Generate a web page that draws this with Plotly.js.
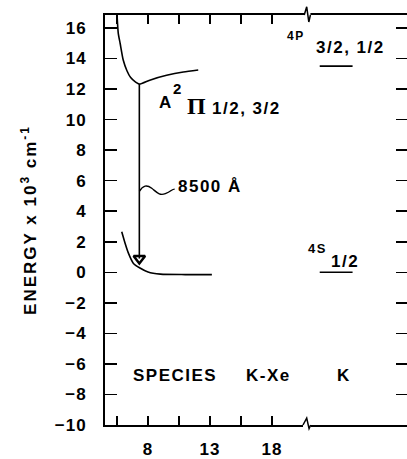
<!DOCTYPE html>
<html>
<head>
<meta charset="utf-8">
<script src="https://cdn.plot.ly/plotly-3.0.1.min.js"></script>
<style>
  html, body { margin: 0; padding: 0; background: #fff; }
  #chart { width: 407px; height: 459px; }
  .annotation-text { letter-spacing: 1.5px; }
  .ytitle { letter-spacing: 2px; }
  .xtick text, .ytick text { letter-spacing: 1px; }
</style>
</head>
<body>
<div id="chart"></div>
<script>
// K-Xe potential curves (energy in 10^3 cm^-1 vs internuclear separation)
const excitedX = [5.5, 5.6, 5.75, 6.0, 6.3, 6.6, 7.0, 7.3, 8.2, 9.5, 10.85, 12.05];
const excitedY = [16.85, 15.65, 15.0, 13.9, 13.2, 12.75, 12.45, 12.32, 12.6, 12.9, 13.12, 13.25];
const groundX = [5.88, 6.15, 6.41, 6.81, 7.35, 8.0, 9.0, 11.0, 13.15];
const groundY = [2.65, 1.9, 1.27, 0.6, 0.28, 0.02, -0.12, -0.15, -0.15];

// 8500 Å emission: vertical transition from the excited minimum
const transitionX = [7.3, 7.3];
const transitionY = [12.32, 0.9];

// Atomic K levels, drawn right of the axis break
const levelX = [21.85, 24.5];
const level4P = 13.5;
const level4S = 0.0;

// Axis ticks
const yTickVals = [-10, -8, -6, -4, -2, 0, 2, 4, 6, 8, 10, 12, 14, 16];
const xTickVals = [8, 13, 18];
const xMinorVals = [5.5, 10.5, 15.5];

const xBreak = 20.5;
const ink = '#000';
const sans = 'Arial, Liberation Sans, sans-serif';
const serif = 'Liberation Serif, Times New Roman, serif';

const traces = [
  { x: excitedX, y: excitedY, mode: 'lines', line: { color: ink, width: 1.6, shape: 'spline', smoothing: 0.6 }, hoverinfo: 'skip' },
  { x: groundX, y: groundY, mode: 'lines', line: { color: ink, width: 1.6, shape: 'spline', smoothing: 0.6 }, hoverinfo: 'skip' },
  { x: transitionX, y: transitionY, mode: 'lines', line: { color: ink, width: 1.6 }, hoverinfo: 'skip' },
  { x: [transitionX[1]], y: [transitionY[1]], mode: 'markers',
    marker: { symbol: 'triangle-down-open', size: 10, color: ink, line: { width: 2.5, color: ink } }, hoverinfo: 'skip' },
  { x: levelX, y: [level4P, level4P], mode: 'lines', line: { color: ink, width: 1.6 }, yaxis: 'y2', hoverinfo: 'skip' },
  { x: levelX, y: [level4S, level4S], mode: 'lines', line: { color: ink, width: 1.6 }, yaxis: 'y2', hoverinfo: 'skip' }
];

function label(text, x, y, size, family) {
  return { text: text, x: x, y: y, xref: 'x', yref: 'y', showarrow: false,
    font: { family: family || sans, size: size, color: ink, weight: 'bold' } };
}

const annotations = [
  label('A', 9.41, 11.15, 17),
  label('2', 10.45, 12.05, 15),
  label('Π', 11.99, 10.92, 24, serif),
  label('1/2, 3/2', 15.94, 10.70, 17),
  label('8500 Å', 13.0, 5.59, 17),
  label('4P', 19.94, 15.48, 12),
  label('3/2, 1/2', 24.37, 14.72, 17),
  label('4S', 21.67, 1.53, 13),
  label('1/2', 23.89, 0.74, 17),
  label('SPECIES', 10.14, -6.79, 17),
  label('K-Xe', 17.68, -6.79, 17),
  label('K', 23.8, -6.79, 17)
];

const shapes = [
  // wavy leader from the transition to its wavelength label
  { type: 'path', xref: 'x', yref: 'y', layer: 'above',
    path: 'M7.3,5.3 C7.6,5.7 7.9,5.75 8.3,5.5 S8.9,5.0 9.4,5.15 S9.9,5.45 10.15,5.45',
    line: { color: ink, width: 1.4 } },
  // axis breaks, bottom and top
  { type: 'rect', xref: 'x', yref: 'paper', layer: 'above', x0: xBreak, x1: xBreak + 0.62, y0: -0.006, y1: 0.006,
    fillcolor: '#fff', line: { width: 0 } },
  { type: 'path', xref: 'x', yref: 'paper', layer: 'above',
    path: 'M20.5,0 L20.8,0.017 L20.99,-0.009 L21.12,0', line: { color: ink, width: 1.5 } },
  { type: 'rect', xref: 'x', yref: 'paper', layer: 'above', x0: xBreak + 0.1, x1: xBreak + 0.6, y0: 0.994, y1: 1.006,
    fillcolor: '#fff', line: { width: 0 } },
  { type: 'path', xref: 'x', yref: 'paper', layer: 'above',
    path: 'M20.6,1 L20.8,1.02 L20.97,0.983 L21.1,1', line: { color: ink, width: 1.5 } }
];

const tickFont = { family: sans, size: 17, color: ink, weight: 'bold' };

const layout = {
  width: 407, height: 459,
  margin: { l: 105, r: 0, t: 15, b: 34, pad: 0 },
  paper_bgcolor: '#fff', plot_bgcolor: '#fff',
  showlegend: false,
  font: { family: sans, size: 16, color: ink },
  xaxis: {
    range: [4.53, 28.89], showgrid: false, zeroline: false,
    showline: true, linecolor: ink, linewidth: 2, mirror: 'ticks',
    ticks: 'inside', ticklen: 9, tickwidth: 1.5, tickcolor: ink,
    tickvals: xTickVals, ticklabelstandoff: 8,
    minor: { tickvals: xMinorVals, ticks: 'inside', ticklen: 9, tickwidth: 1.5, tickcolor: ink, showgrid: false },
    tickfont: tickFont
  },
  yaxis: {
    range: [-10, 16.85], showgrid: false, zeroline: false,
    showline: true, linecolor: ink, linewidth: 2,
    ticks: 'inside', ticklen: 12, tickwidth: 1.5, tickcolor: ink,
    tickvals: yTickVals, ticklabelstandoff: 13,
    tickfont: tickFont,
    title: { text: 'ENERGY x 10<sup>3</sup> cm<sup>-1</sup>', font: { family: sans, size: 17, color: ink, weight: 'bold' }, standoff: 14 }
  },
  yaxis2: {
    overlaying: 'y', side: 'right', matches: 'y', range: [-10, 16.85],
    showgrid: false, zeroline: false, showline: false,
    ticks: 'inside', ticklen: 11, tickwidth: 1.5, tickcolor: ink,
    tickvals: yTickVals, showticklabels: false
  },
  annotations: annotations,
  shapes: shapes
};

Plotly.newPlot('chart', traces, layout, { displayModeBar: false, staticPlot: true });
</script>
</body>
</html>
